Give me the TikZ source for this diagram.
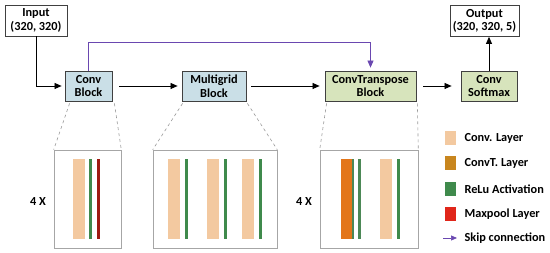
\documentclass[tikz,border=0pt]{standalone}
\usepackage{fontspec}
\setmainfont{Carlito}
\usetikzlibrary{
    positioning,
    calc,
    arrows.meta
}
\definecolor{BlocoAzul}{HTML}{CADFE7}
\definecolor{BlocoVerde}{HTML}{D7E4BC}
\definecolor{Borda}{HTML}{404040}
\definecolor{CorConv}{HTML}{F3C9A0}
\definecolor{CorConvT}{HTML}{E3761A}
\definecolor{CorConvTLeg}{HTML}{C8861E}
\definecolor{CorRelu}{HTML}{3F8A4C}
\definecolor{CorPool}{HTML}{E0261A}
\definecolor{CorSkip}{HTML}{6A48B0}

\tikzset{
    rotulo/.style={font=\bfseries\fontsize{12.3}{13.5}\selectfont, align=center},
    caixaio/.style={rotulo, draw=Borda, line width=0.8pt, fill=white,
        minimum height=31pt, inner sep=1pt},
    bloco/.style={rotulo, draw=Borda, line width=0.8pt,
        minimum height=30pt, inner sep=1pt},
    detalhe/.style={draw=gray!70, line width=0.6pt, minimum height=98pt},
    seta/.style={-{Triangle[length=7pt,width=6pt]}, line width=0.7pt, black},
    salto/.style={-{Triangle[length=7pt,width=6pt]}, line width=0.7pt, CorSkip},
    tracejado/.style={dashed, gray!80, line width=0.6pt},
    amostra/.style={minimum width=11pt, minimum height=14pt, inner sep=0pt},
    legenda/.style={rotulo, anchor=west}
}

\begin{document}
\begin{tikzpicture}[x=1pt, y=-1pt]

    \useasboundingbox (0,0) rectangle (550,253);

    % blocos principais
    \node[caixaio, minimum width=62pt] (input) at (36,20.5) {Input\\(320, 320)};
    \node[bloco, fill=BlocoAzul, minimum width=47pt] (conv) at (88.5,86) {Conv\\Block};
    \node[bloco, fill=BlocoAzul, minimum width=64pt] (multigrid) at (214,86) {Multigrid\\Block};
    \node[bloco, fill=BlocoVerde, minimum width=91pt] (convT) at (370.5,86) {ConvTranspose\\Block};
    \node[bloco, fill=BlocoVerde, minimum width=56pt] (softmax) at (489,86) {Conv\\Softmax};
    \node[caixaio, minimum width=69pt] (output) at (484.5,21) {Output\\(320, 320, 5)};

    % conexoes
    \draw[seta] (input.south) |- ($(conv.west)+(-3,0)$);
    \draw[seta] ($(conv.east)+(7,0)$) -- ($(multigrid.west)+(-4,0)$);
    \draw[seta] ($(multigrid.east)+(5,0)$) -- ($(convT.west)+(-5,0)$);
    \draw[seta] ($(convT.east)+(7,0)$) -- ($(softmax.west)+(-9,0)$);
    \draw[seta] (softmax.north) -- ($(output.south)+(4.5,0)$);
    \draw[salto] (conv.north) -- ++(0,-28) -| ($(convT.north)+(0,-3)$);

    % detalhes
    \node[detalhe, minimum width=67pt] (convdet) at (87.5,199) {};
    \node[detalhe, minimum width=124pt] (mgdet) at (215,199) {};
    \node[detalhe, minimum width=98pt] (ctdet) at (369,199) {};

    \draw[tracejado] ($(conv.south west)+(5,2)$) -- (convdet.north west);
    \draw[tracejado] ($(conv.south east)+(2,2)$) -- (convdet.north east);
    \draw[tracejado] ($(multigrid.south west)+(1,2)$) -- (mgdet.north west);
    \draw[tracejado] ($(multigrid.south east)+(1,2)$) -- (mgdet.north east);
    \draw[tracejado] ($(convT.south west)+(2,2)$) -- (ctdet.north west);
    \draw[tracejado] ($(convT.south east)+(1,2)$) -- (ctdet.north east);

    \node[rotulo] (rep1) at (38,202) {4 X};
    \node[rotulo] (rep2) at (304,202) {4 X};

    % camadas
    \fill[CorConv] (73,159) rectangle (85,239);
    \fill[CorRelu] (89,159) rectangle (92,239);
    \fill[CorPool!70!black] (96.5,159) rectangle (99.5,239);

    \foreach \xa in {168,207,242}{
        \fill[CorConv] (\xa,159) rectangle (\xa+12,239);
        \fill[CorRelu] (\xa+17,159) rectangle (\xa+19.5,239);
    }

    \fill[CorConvT] (341,159) rectangle (353,239);
    \fill[CorRelu!80!gray] (352,159) rectangle (353.5,239);
    \fill[CorRelu!80!gray] (358,159) rectangle (360.5,239);
    \fill[CorConv] (380,159) rectangle (392,239);
    \fill[CorRelu] (397,159) rectangle (399.5,239);

    % legenda
    \node[amostra, fill=CorConv] (lconv) at (450,138) {};
    \node[amostra, fill=CorConvTLeg] (lconvT) at (450,163) {};
    \node[amostra, fill=CorRelu] (lrelu) at (450,189) {};
    \node[amostra, fill=CorPool] (lpool) at (450,214) {};
    \coordinate (lskip) at (450,238);

    \node[legenda] at (461,138) {Conv. Layer};
    \node[legenda] at (461,163) {ConvT. Layer};
    \node[legenda] at (461,189) {ReLu Activation};
    \node[legenda] at (461,214) {Maxpool Layer};
    \node[legenda] (tskip) at (461,238) {Skip connection};
    \draw[-{Triangle[length=6pt,width=5pt]}, line width=0.7pt, CorSkip]
        ($(lskip)+(-7,0)$) -- ($(tskip.west)+(-4,0)$);

\end{tikzpicture}
\end{document}
